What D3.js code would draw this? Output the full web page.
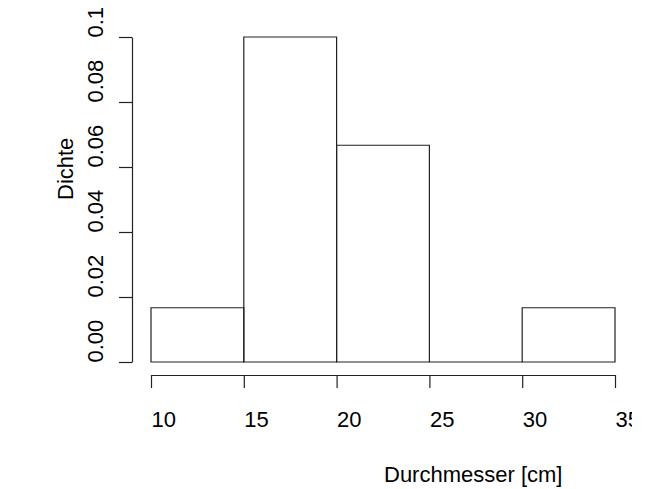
<!DOCTYPE html>
<html>
<head>
<meta charset="utf-8">
<script src="https://cdn.jsdelivr.net/npm/d3@7"></script>
<style>
  body { margin: 0; background: #fff; }
  svg { display: block; }
  text { font-family: "Liberation Sans", Arial, sans-serif; fill: #000; }
</style>
</head>
<body>
<script>
// histogram bins (Durchmesser in cm) and densities
const binStarts = [10, 15, 20, 25, 30];
const binEnds = [15, 20, 25, 30, 35];
const density = [0.0167, 0.1, 0.0667, 0, 0.0167];

const xTicks = [10, 15, 20, 25, 30, 35];
const yTicks = [0, 0.02, 0.04, 0.06, 0.08, 0.1];
const yTickLabels = ["0.00", "0.02", "0.04", "0.06", "0.08", "0.1"];

const width = 651;
const height = 489;
const fontSize = 22;

const svg = d3
  .select("body")
  .append("svg")
  .attr("width", width)
  .attr("height", height);

const x = d3.scaleLinear().domain([10, 35]).range([151, 615]);
const y = d3.scaleLinear().domain([0, 0.1]).range([362, 37]);

// bars, drawn as closed paths so the empty bin still shows its base line
const bins = binStarts.map((s, i) => ({ x0: s, x1: binEnds[i], d: density[i] }));

svg
  .append("g")
  .attr("fill", "none")
  .attr("stroke", "#222")
  .attr("stroke-width", 1.2)
  .selectAll("path")
  .data(bins)
  .join("path")
  .attr("d", (b) => {
    const p = d3.path();
    p.rect(x(b.x0), y(b.d), x(b.x1) - x(b.x0), y(0) - y(b.d));
    return p.toString();
  });

// the last x label is cut off at the right edge in the original
svg
  .append("clipPath")
  .attr("id", "clipX")
  .append("rect")
  .attr("x", 0)
  .attr("y", -400)
  .attr("width", 632)
  .attr("height", 800);

// x axis, offset below the bars like base R
const xAxis = svg
  .append("g")
  .attr("transform", "translate(0,375)")
  .attr("clip-path", "url(#clipX)")
  .call(d3.axisBottom(x).tickValues(xTicks).tickSize(13).tickSizeOuter(0).tickFormat(d3.format("d")));

xAxis.select(".domain").attr("stroke", "#222").attr("stroke-width", 1.2);
xAxis.selectAll(".tick line").attr("stroke", "#222").attr("stroke-width", 1.2);
xAxis
  .selectAll(".tick text")
  .attr("text-anchor", "start")
  .attr("x", 0)
  .attr("y", 52)
  .attr("dy", null)
  .attr("font-family", null)
  .style("font-size", fontSize + "px");

// y axis
const yAxis = svg
  .append("g")
  .attr("transform", "translate(132,0)")
  .call(
    d3
      .axisLeft(y)
      .tickValues(yTicks)
      .tickSize(13)
      .tickSizeOuter(0)
      .tickFormat((d, i) => yTickLabels[i])
  );

yAxis.select(".domain").attr("stroke", "#222").attr("stroke-width", 1.2);
yAxis.selectAll(".tick line").attr("stroke", "#222").attr("stroke-width", 1.2);
yAxis
  .selectAll(".tick text")
  .attr("text-anchor", "start")
  .attr("x", null)
  .attr("dy", null)
  .attr("font-family", null)
  .attr("transform", "translate(-29,0) rotate(-90)")
  .style("font-size", fontSize + "px");

// axis titles
svg
  .append("text")
  .attr("x", 384)
  .attr("y", 482)
  .attr("text-anchor", "start")
  .style("font-size", fontSize + "px")
  .text("Durchmesser [cm]");

svg
  .append("text")
  .attr("transform", "translate(73,200) rotate(-90)")
  .attr("text-anchor", "start")
  .style("font-size", fontSize + "px")
  .text("Dichte");
</script>
</body>
</html>
